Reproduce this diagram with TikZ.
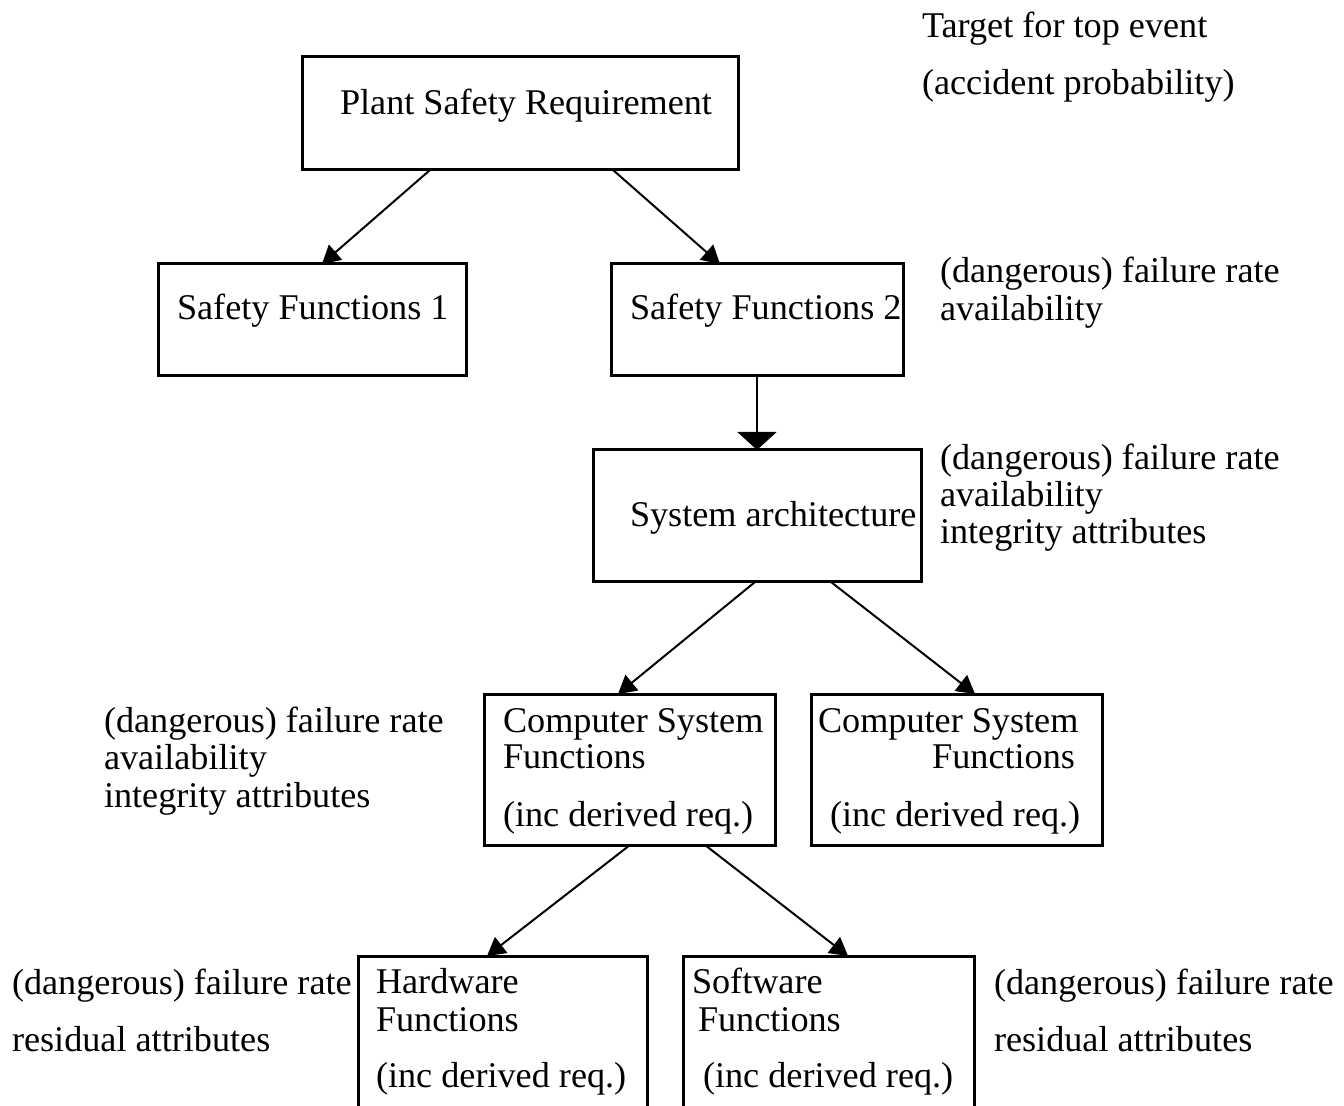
\documentclass[tikz,border=0pt]{standalone}
\usepackage{fontspec}
\setmainfont{Liberation Serif}
\usetikzlibrary{arrows.meta,calc}
\begin{document}
\begin{tikzpicture}[x=0.5pt,y=-0.5pt,
  box/.style={draw,line width=1.5pt,rectangle,inner sep=0pt,outer sep=0pt},
  txt/.style={inner sep=0pt,outer sep=0pt,anchor=base west,font=\fontsize{18.1pt}{22pt}\selectfont},
  txtr/.style={txt,anchor=base east},
  conn/.style={line width=1pt,-{Triangle[width=10pt,length=9pt]}},
  vconn/.style={line width=1pt,-{Triangle[width=19.5pt,length=9pt]}}]
\useasboundingbox (0,0) rectangle (1344,1106);
\fill[white] (0,0) rectangle (1344,1106);

% boxes
\node[box,minimum width=218pt,minimum height=56.5pt] (psr) at (520,113.5) {};
\node[box,minimum width=154pt,minimum height=56pt] (sf1) at (312,320) {};
\node[box,minimum width=146pt,minimum height=56pt] (sf2) at (757,320) {};
\node[box,minimum width=164pt,minimum height=66pt] (sys) at (757,516) {};
\node[box,minimum width=145.5pt,minimum height=75.5pt] (csl) at (629.5,769.5) {};
\node[box,minimum width=145.5pt,minimum height=75.5pt] (csr) at (956.5,769.5) {};
\node[box,minimum width=144.5pt,minimum height=87pt] (hw) at (502.5,1043) {};
\node[box,minimum width=145.5pt,minimum height=87pt] (sw) at (828.5,1043) {};

% box texts
\node[txt] (tpsr) at (340,115) {Plant Safety Requirement};
\node[txt] (tsf1) at (177,320) {Safety Functions 1};
\node[txt] (tsf2) at (630,320) {Safety Functions 2};
\node[txt] (tsys) at (630,527) {System architecture};
\node[txt] (tcsla) at (503,732) {Computer System};
\node[txt] (tcslb) at (503,768) {Functions};
\node[txt] (tcslc) at (503,826) {(inc derived req.)};
\node[txt] (tcsra) at (818,732) {Computer System};
\node[txtr] (tcsrb) at (1075,768) {Functions};
\node[txt] (tcsrc) at (830,826) {(inc derived req.)};
\node[txt] (thwa) at (376,993) {Hardware};
\node[txt] (thwb) at (376,1031) {Functions};
\node[txt] (thwc) at (376,1087) {(inc derived req.)};
\node[txt] (tswa) at (692,993) {Software};
\node[txt] (tswb) at (698,1031) {Functions};
\node[txt] (tswc) at (703,1087) {(inc derived req.)};

% side annotations
\node[txt] (top1) at (922,38) {Target for top event};
\node[txt] (top2) at (922,95) {(accident probability)};
\node[txt] (a1) at (940,283) {(dangerous) failure rate};
\node[txt] (a2) at (940,321) {availability};
\node[txt] (b1) at (940,470) {(dangerous) failure rate};
\node[txt] (b2) at (940,507) {availability};
\node[txt] (b3) at (940,544) {integrity attributes};
\node[txt] (c1) at (104,732) {(dangerous) failure rate};
\node[txt] (c2) at (104,769) {availability};
\node[txt] (c3) at (104,807) {integrity attributes};
\node[txt] (d1) at (12,994) {(dangerous) failure rate};
\node[txt] (d2) at (12,1051) {residual attributes};
\node[txt] (e1) at (994,994) {(dangerous) failure rate};
\node[txt] (e2) at (994,1051) {residual attributes};

% connectors
\draw[conn] ($(psr.south)+(-90,0)$) -- ($(sf1.north)+(10,0)$);
\draw[conn] ($(psr.south)+(93,0)$) -- ($(sf2.north)+(-37,0)$);
\draw[vconn] (sf2.south) -- (sys.north);
\draw[conn] ($(sys.south)+(-2,0)$) -- ($(csl.north)+(-11.5,0)$);
\draw[conn] ($(sys.south)+(74,0)$) -- ($(csr.north)+(18.5,0)$);
\draw[conn] ($(csl.south)+(0.5,0)$) -- ($(hw.north)+(-15.5,0)$);
\draw[conn] ($(csl.south)+(75.5,0)$) -- ($(sw.north)+(19.5,0)$);
\end{tikzpicture}
\end{document}
